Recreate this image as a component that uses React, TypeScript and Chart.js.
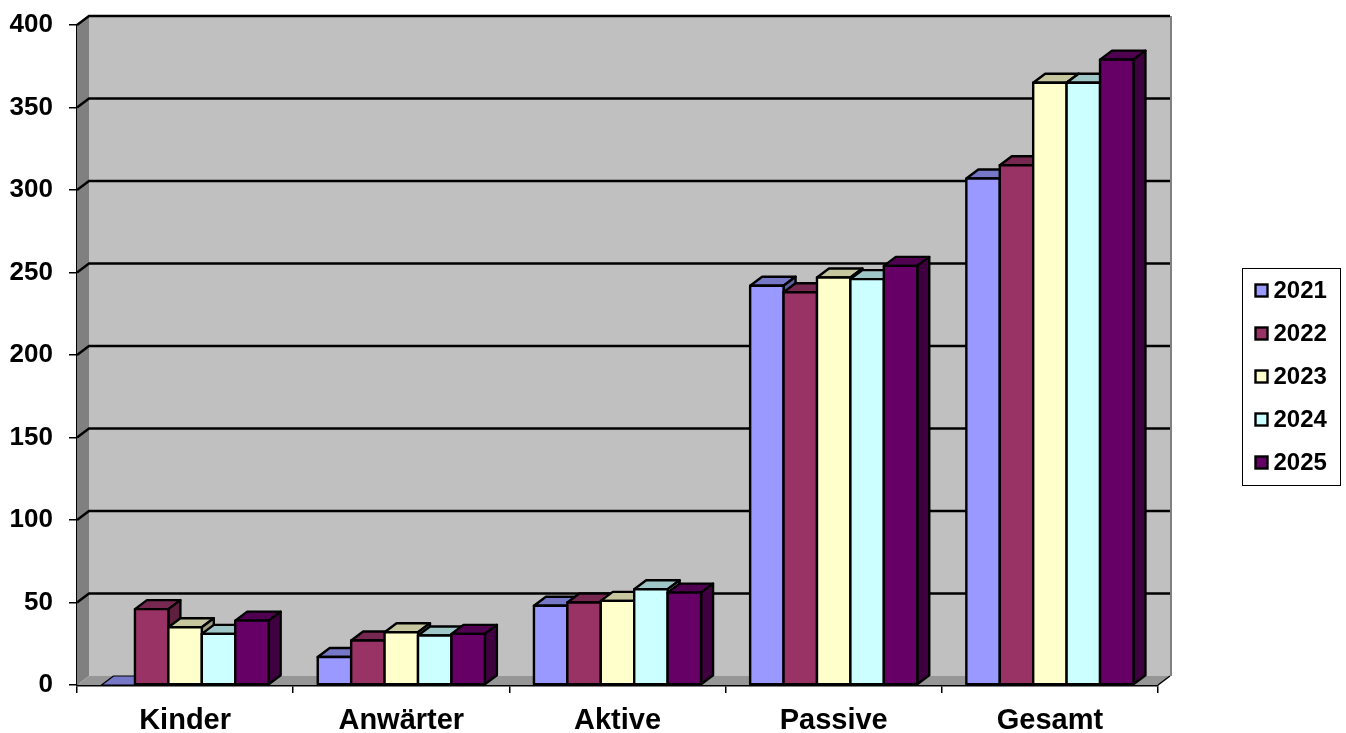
import React, { useEffect, useRef } from "react";
import { Chart, registerables } from "chart.js";

Chart.register(...registerables);

const categories = ["Kinder", "Anwärter", "Aktive", "Passive", "Gesamt"];
const years = ["2021", "2022", "2023", "2024", "2025"];
const values2021 = [0, 17, 48, 242, 307];
const values2022 = [46, 27, 50, 238, 315];
const values2023 = [35, 32, 51, 247, 365];
const values2024 = [31, 30, 58, 246, 365];
const values2025 = [39, 31, 56, 254, 379];
const seriesValues = [values2021, values2022, values2023, values2024, values2025];
const colors = ["#9999FF", "#993366", "#FFFFCC", "#CCFFFF", "#660066"];
const yTicks = [0, 50, 100, 150, 200, 250, 300, 350, 400];

const DX = 12;
const DY = -9;
const FONT = "'Liberation Sans', Arial, sans-serif";

function shade(hex: string, f: number) {
  const n = parseInt(hex.slice(1), 16);
  const r = Math.round(((n >> 16) & 255) * f);
  const g = Math.round(((n >> 8) & 255) * f);
  const b = Math.round((n & 255) * f);
  return `rgb(${r},${g},${b})`;
}

function poly(ctx: CanvasRenderingContext2D, pts: number[][], fill: string, stroke?: string, lw = 2.4) {
  ctx.beginPath();
  pts.forEach((p, i) => (i ? ctx.lineTo(p[0], p[1]) : ctx.moveTo(p[0], p[1])));
  ctx.closePath();
  ctx.fillStyle = fill;
  ctx.fill();
  if (stroke) {
    ctx.strokeStyle = stroke;
    ctx.lineWidth = lw;
    ctx.lineJoin = "round";
    ctx.stroke();
  }
}

const wallsPlugin = {
  id: "walls",
  beforeDatasetsDraw(chart: any) {
    const { ctx, chartArea: a, scales } = chart;
    ctx.save();
    // back wall
    poly(ctx, [[a.left + DX, a.top + DY], [a.right + DX, a.top + DY], [a.right + DX, a.bottom + DY], [a.left + DX, a.bottom + DY]], "#C0C0C0");
    // left wall
    poly(ctx, [[a.left, a.top], [a.left + DX, a.top + DY], [a.left + DX, a.bottom + DY], [a.left, a.bottom]], "#808080");
    // floor
    poly(ctx, [[a.left, a.bottom], [a.left + DX, a.bottom + DY], [a.right + DX, a.bottom + DY], [a.right, a.bottom]], "#969696");
    // right edge of the back wall
    ctx.strokeStyle = "#808080";
    ctx.lineWidth = 2;
    ctx.beginPath();
    ctx.moveTo(a.right + DX + 1, a.top + DY);
    ctx.lineTo(a.right + DX + 1, a.bottom + DY);
    ctx.stroke();
    // floor outline at the right
    ctx.strokeStyle = "#000";
    ctx.lineWidth = 1.5;
    ctx.beginPath();
    ctx.moveTo(a.right, a.bottom);
    ctx.lineTo(a.right + DX, a.bottom + DY);
    ctx.stroke();
    // grid lines
    ctx.strokeStyle = "#000";
    ctx.lineWidth = 2.4;
    yTicks.forEach((t) => {
      if (t === 0) return;
      const y = scales.y.getPixelForValue(t);
      ctx.beginPath();
      ctx.moveTo(a.left, y);
      ctx.lineTo(a.left + DX, y + DY);
      ctx.lineTo(a.right + DX, y + DY);
      ctx.stroke();
    });
    // bars: left to right, so each series overlaps the side face of the one before
    chart.data.datasets.forEach((_: any, i: number) => {
      const meta = chart.getDatasetMeta(i);
      const color = colors[i];
      meta.data.forEach((bar: any) => {
        const l = bar.x - bar.width / 2;
        const r = bar.x + bar.width / 2;
        const t = bar.y;
        const b = bar.base;
        poly(ctx, [[l, t], [l + DX, t + DY], [r + DX, t + DY], [r, t]], shade(color, 0.78), "#000", b - t > 0 ? 2.4 : 1.2);
        if (b - t > 0) {
          poly(ctx, [[r, t], [r + DX, t + DY], [r + DX, b + DY], [r, b]], shade(color, 0.62), "#000");
        }
      });
      meta.data.forEach((bar: any) => bar.draw(ctx));
      ctx.strokeStyle = "#000";
      ctx.lineWidth = 2.4;
      ctx.lineJoin = "round";
      meta.data.forEach((bar: any) => {
        if (bar.base - bar.y > 0) {
          ctx.strokeRect(bar.x - bar.width / 2, bar.y, bar.width, bar.base - bar.y);
        }
      });
    });
    ctx.restore();
  },
  beforeDatasetDraw() {
    // the bars were already drawn, in the right stacking order, above
    return false;
  },
  afterDraw(chart: any) {
    const { ctx } = chart;
    const box = { x: 1242.5, y: 268.5, w: 98, h: 217 };
    ctx.save();
    ctx.fillStyle = "#fff";
    ctx.strokeStyle = "#000";
    ctx.lineWidth = 1;
    ctx.fillRect(box.x, box.y, box.w, box.h);
    ctx.strokeRect(box.x, box.y, box.w, box.h);
    ctx.font = `bold 24px ${FONT}`;
    ctx.textBaseline = "middle";
    chart.data.datasets.forEach((ds: any, i: number) => {
      const cy = 290.5 + i * 43;
      ctx.fillStyle = colors[i];
      ctx.fillRect(box.x + 13, cy - 6, 12, 12);
      ctx.strokeStyle = "#000";
      ctx.lineWidth = 2.4;
      ctx.strokeRect(box.x + 13, cy - 6, 12, 12);
      ctx.fillStyle = "#000";
      ctx.fillText(ds.label, box.x + 31, cy + 1);
    });
    ctx.restore();
  },
};

export default function App() {
  const ref = useRef<HTMLCanvasElement>(null);
  useEffect(() => {
    const chart = new Chart(ref.current as HTMLCanvasElement, {
      type: "bar",
      data: {
        labels: categories,
        datasets: years.map((y, i) => ({
          label: y,
          data: seriesValues[i],
          backgroundColor: colors[i],
          borderWidth: 0,
          categoryPercentage: 0.773,
          barPercentage: 1,
        })),
      },
      options: {
        responsive: false,
        animation: false,
        events: [],
        layout: { padding: { top: 25, right: 188, left: 0, bottom: 0 } },
        plugins: { legend: { display: false }, tooltip: { enabled: false }, title: { display: false } },
        scales: {
          x: {
            grid: { drawOnChartArea: false, drawTicks: true, tickLength: 8, color: "#000", lineWidth: 1.5 },
            border: { display: true, color: "#000", width: 2.4 },
            ticks: {
              color: "#000",
              font: { family: FONT, size: 29, weight: "bold" },
              padding: 11,
              autoSkip: false,
              maxRotation: 0,
            },
            afterFit(s: any) {
              s.height = 48;
            },
          },
          y: {
            min: 0,
            max: 400,
            grid: { drawOnChartArea: false, drawTicks: true, tickLength: 8, color: "#000", lineWidth: 1.5 },
            border: { display: true, color: "#000", width: 2.4 },
            ticks: {
              color: "#000",
              stepSize: 50,
              font: { family: FONT, size: 26, weight: "bold" },
              padding: 16,
            },
            afterFit(s: any) {
              s.width = 77;
              s.paddingTop = 0;
              s.paddingBottom = 0;
            },
          },
        },
      },
      plugins: [wallsPlugin],
    } as any);
    return () => chart.destroy();
  }, []);
  return (
    <div style={{ position: "absolute", left: 0, top: 0, width: 1346, height: 733, background: "#fff" }}>
      <canvas ref={ref} width={1346} height={733} style={{ display: "block" }} />
    </div>
  );
}
